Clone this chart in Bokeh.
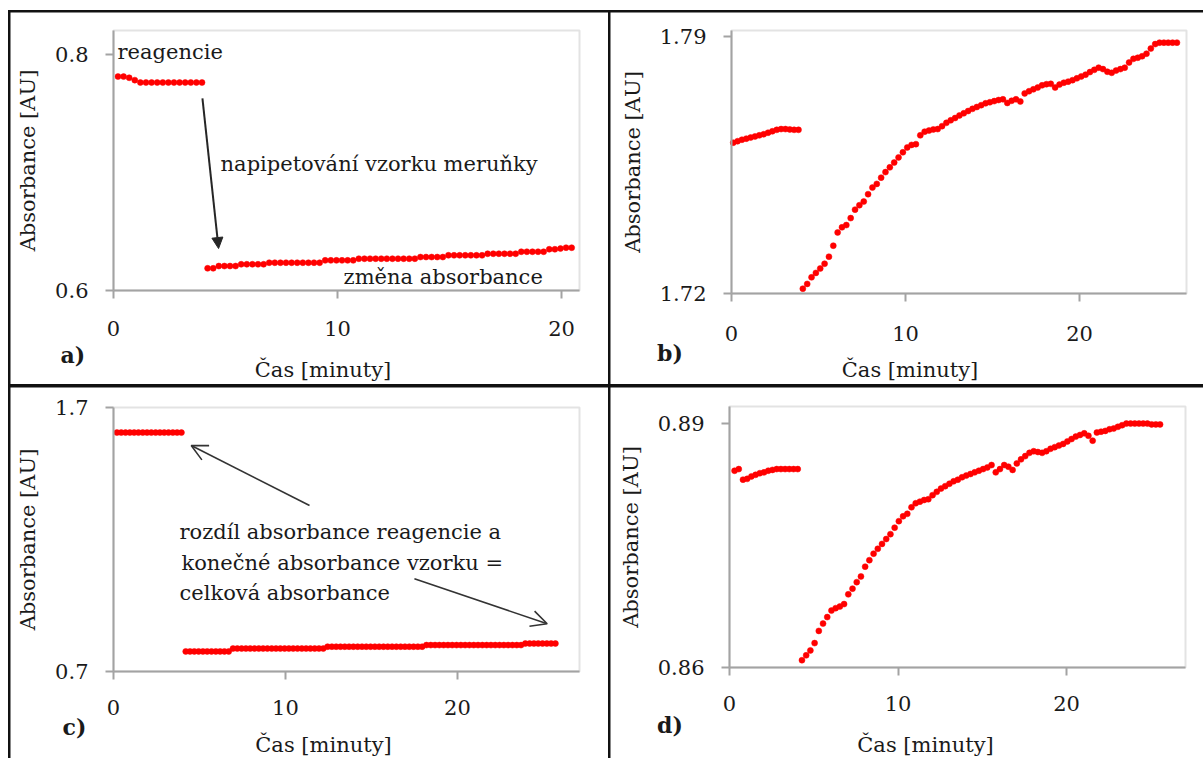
from bokeh.plotting import figure
from bokeh.models import (FixedTicker, Label, Arrow, NormalHead, OpenHead,
                          GridBox, Range1d, BoxAnnotation)
from bokeh.embed import file_html
from bokeh.resources import INLINE

# Sampling interval of the spectrophotometer record [min] (15 s)
STEP = 0.25

# a) reagent alone, then after pipetting the apricot sample
a_reagent_t0 = 0.2
a_reagent = [0.781, 0.781, 0.780, 0.778, 0.776, 0.776, 0.776, 0.776,
             0.776, 0.776, 0.776, 0.776, 0.776, 0.776, 0.776, 0.776]
a_sample_t0 = 4.2
a_sample = [0.6188, 0.6188,
            0.6207, 0.6207, 0.6207, 0.6207,
            0.6222, 0.6222, 0.6222, 0.6222, 0.6222,
            0.6235, 0.6235, 0.6235, 0.6235, 0.6235, 0.6235, 0.6235, 0.6235, 0.6235, 0.6235,
            0.6255, 0.6255, 0.6255, 0.6255, 0.6255, 0.6255,
            0.6269, 0.6269, 0.6269, 0.6269, 0.6269, 0.6269, 0.6269, 0.6269, 0.6269, 0.6269, 0.6269,
            0.6283, 0.6283, 0.6283, 0.6283, 0.6283,
            0.6298, 0.6298, 0.6298, 0.6298, 0.6298, 0.6298, 0.6298,
            0.6311, 0.6311, 0.6311, 0.6311, 0.6311, 0.6311,
            0.6328, 0.6328, 0.6328, 0.6328, 0.6328,
            0.6349, 0.6349, 0.6355, 0.6362, 0.6362]

# b) second record
b_reagent_t0 = 0.1
b_reagent = [1.7610, 1.7614, 1.7618, 1.7621, 1.7624, 1.7627, 1.7630, 1.7633,
             1.7637, 1.7641, 1.7645, 1.7647, 1.7647, 1.7646, 1.7645, 1.7645]
b_sample_t0 = 4.1
b_sample = [1.7213, 1.7226, 1.7244, 1.7256,
            1.7268, 1.7281, 1.7300, 1.7330,
            1.7366, 1.7380, 1.7386, 1.7405,
            1.7428, 1.7440, 1.7450, 1.7470,
            1.7488, 1.7498, 1.7515, 1.7530,
            1.7543, 1.7556, 1.7570, 1.7584,
            1.7597, 1.7604, 1.7606, 1.7630,
            1.7640, 1.7643, 1.7646, 1.7647,
            1.7655, 1.7664, 1.7671, 1.7677,
            1.7684, 1.7690, 1.7696, 1.7702,
            1.7707, 1.7712, 1.7717, 1.7720,
            1.7723, 1.7726, 1.7728, 1.7718,
            1.7724, 1.7728, 1.7722, 1.7744,
            1.7750, 1.7755, 1.7760, 1.7766,
            1.7769, 1.7770, 1.7760, 1.7768,
            1.7773, 1.7776, 1.7780, 1.7785,
            1.7790, 1.7795, 1.7802, 1.7808,
            1.7814, 1.7810, 1.7803, 1.7800,
            1.7806, 1.7810, 1.7814, 1.7828,
            1.7838, 1.7841, 1.7845, 1.7852,
            1.7866, 1.7878, 1.7882, 1.7882,
            1.7882, 1.7882, 1.7882]

# c) reagent vs. final sample absorbance
c_reagent_t0 = 0.2
c_reagent = [1.605, 1.605, 1.605, 1.605, 1.605, 1.605, 1.605, 1.605,
             1.605, 1.605, 1.605, 1.605, 1.605, 1.605, 1.605, 1.605]
c_sample_t0 = 4.2
c_sample = [0.776, 0.776, 0.776, 0.776, 0.776, 0.776, 0.776, 0.776, 0.776, 0.776, 0.776,
            0.787, 0.787, 0.787, 0.787, 0.787, 0.787, 0.787, 0.787, 0.787, 0.787, 0.787,
            0.787, 0.787, 0.787, 0.787, 0.787, 0.787, 0.787, 0.787, 0.787, 0.787, 0.787,
            0.794, 0.794, 0.794, 0.794, 0.794, 0.794, 0.794, 0.794, 0.794, 0.794, 0.794, 0.794,
            0.794, 0.794, 0.794, 0.794, 0.794, 0.794, 0.794, 0.794, 0.794, 0.794, 0.794,
            0.800, 0.800, 0.800, 0.800, 0.800, 0.800, 0.800, 0.800, 0.800, 0.800, 0.800, 0.800,
            0.800, 0.800, 0.800, 0.800, 0.800, 0.800, 0.800, 0.800, 0.800, 0.800, 0.800,
            0.806, 0.806, 0.806, 0.806, 0.806, 0.806, 0.806, 0.806]

# d) fourth record
d_reagent_t0 = 0.3
d_reagent = [0.8842, 0.8844, 0.8831, 0.8832, 0.8835, 0.8837, 0.8839, 0.8840,
             0.8842, 0.8843, 0.8844, 0.8844, 0.8844, 0.8844, 0.8844, 0.8844]
d_sample_t0 = 4.3
d_sample = [0.8609, 0.8615, 0.8621,
            0.8630, 0.8645, 0.8654, 0.8662,
            0.8670, 0.8673, 0.8675, 0.8678,
            0.8690, 0.8697, 0.8705, 0.8712,
            0.8724, 0.8732, 0.8740, 0.8746,
            0.8752, 0.8758, 0.8764, 0.8772,
            0.8780, 0.8786, 0.8789, 0.8797,
            0.8802, 0.8804, 0.8806, 0.8807,
            0.8812, 0.8816, 0.8820, 0.8823,
            0.8826, 0.8829, 0.8831, 0.8834,
            0.8836, 0.8838, 0.8840, 0.8842,
            0.8844, 0.8846, 0.8849, 0.8840,
            0.8844, 0.8849, 0.8847, 0.8843,
            0.8851, 0.8856, 0.8860, 0.8864,
            0.8866, 0.8865, 0.8864, 0.8866,
            0.8869, 0.8871, 0.8873, 0.8875,
            0.8878, 0.8881, 0.8884, 0.8886,
            0.8888, 0.8885, 0.8879, 0.8889,
            0.8890, 0.8891, 0.8893, 0.8894,
            0.8896, 0.8898, 0.8900, 0.8900,
            0.8900, 0.8900, 0.8900, 0.8900,
            0.8899, 0.8899, 0.8899]

x_ticks = [0, 10, 20]
a_yticks = [0.6, 0.8]
b_yticks = [1.72, 1.79]
c_yticks = [0.7, 1.7]
d_yticks = [0.86, 0.89]

X_TITLE = "Čas [minuty]"
Y_TITLE = "Absorbance [AU]"

FONT = "DejaVu Serif"
INK = "#1a1a1a"
FRAME = "#a3a3a3"
DOT = "#ff0000"


def times(t0, n):
    return [round(t0 + STEP * i, 3) for i in range(n)]


class Panel:
    """One chart cell. The Bokeh frame fills the whole cell, the grey plot
    area (pixel box `area` = left, top, right, bottom) is drawn inside it with
    the axes pinned to its lower and left edges."""

    def __init__(self, width, height, area, x_extent, y_extent, yticks,
                 x_standoff):
        left, top, right, bottom = area
        x0, x1 = x_extent
        y0, y1 = y_extent
        self.sx = (right - left) / (x1 - x0)
        self.sy = (bottom - top) / (y1 - y0)
        self.xs = x0 - left / self.sx
        self.ye = y1 + top / self.sy
        p = figure(width=width, height=height, output_backend="svg",
                   toolbar_location=None, min_border=0,
                   x_range=Range1d(self.xs, x1 + (width - right) / self.sx),
                   y_range=Range1d(y0 - (height - bottom) / self.sy, self.ye))
        p.grid.visible = False
        p.outline_line_color = None
        p.background_fill_color = "white"
        p.border_fill_color = "white"
        p.add_layout(BoxAnnotation(left=x0, right=x1, bottom=y0, top=y1,
                                   fill_color=None, line_color=FRAME,
                                   line_width=2, level="underlay"))
        xa, ya = p.xaxis[0], p.yaxis[0]
        for ax in (xa, ya):
            ax.axis_line_color = FRAME
            ax.axis_line_width = 2
            ax.major_tick_line_color = FRAME
            ax.major_tick_line_width = 2
            ax.major_tick_in = 0
            ax.major_tick_out = 8
            ax.minor_tick_line_color = None
            ax.major_label_text_font = FONT
            ax.major_label_text_font_size = "21px"
            ax.major_label_text_color = INK
        xa.fixed_location = y0
        xa.bounds = (x0, x1)
        xa.ticker = FixedTicker(ticks=x_ticks)
        xa.major_label_standoff = x_standoff
        ya.fixed_location = x0
        ya.bounds = (y0, y1)
        ya.ticker = FixedTicker(ticks=yticks)
        ya.major_label_standoff = 17
        ya.axis_label = Y_TITLE
        ya.axis_label_text_font = FONT
        ya.axis_label_text_font_size = "21px"
        ya.axis_label_text_font_style = "normal"
        ya.axis_label_text_color = INK
        ya.axis_label_standoff = 12
        self.p = p

    def series(self, t0, values):
        self.p.scatter(times(t0, len(values)), values, marker="circle",
                       size=6, fill_color=DOT, line_color=DOT,
                       line_width=0.5)

    def text(self, x, y, s, size="21px", bold=False, align="left",
             baseline="alphabetic"):
        self.p.add_layout(Label(x=x, y=y, text=s, text_font=FONT,
                                text_font_size=size,
                                text_font_style="bold" if bold else "normal",
                                text_color=INK, text_align=align,
                                text_baseline=baseline))

    def caption(self, letter, letter_px, title_px):
        """Panel letter and time-axis title, placed in cell pixels."""
        lx, ly = letter_px
        tx, ty = title_px
        self.text(self.xs + lx / self.sx, self.ye - ly / self.sy, letter,
                  size="22px", bold=True, baseline="middle")
        self.text(self.xs + tx / self.sx, self.ye - ty / self.sy, X_TITLE,
                  align="center", baseline="middle")


# --- a) -----------------------------------------------------------------
a = Panel(598, 372, (103, 18, 569, 278), (0, 20.8), (0.6, 0.82), a_yticks, 22)
a.series(a_reagent_t0, a_reagent)
a.series(a_sample_t0, a_sample)
a.text(0.18, 0.8014, "reagencie")
a.text(4.78, 0.7074, "napipetování vzorku meruňky")
a.text(10.27, 0.6118, "změna absorbance")
a.p.add_layout(Arrow(x_start=3.97, y_start=0.7625, x_end=4.69, y_end=0.6355,
                     line_color="#262626", line_width=2,
                     end=NormalHead(size=11, fill_color="#262626",
                                    line_color="#262626", line_width=1)))
a.caption("a)", (50, 342.5), (312.5, 357))

# --- b) -----------------------------------------------------------------
b = Panel(593, 372, (121, 18, 576, 281), (0, 26.15), (1.72, 1.7915), b_yticks, 24)
b.series(b_reagent_t0, b_reagent)
b.series(b_sample_t0, b_sample)
b.caption("b)", (46.5, 340.5), (299.5, 357))

# --- c) -----------------------------------------------------------------
c = Panel(598, 371, (103, 20, 569, 284), (0, 27.1), (0.7, 1.7), c_yticks, 20)
c.series(c_reagent_t0, c_reagent)
c.series(c_sample_t0, c_sample)
c.text(3.84, 1.2302, "rozdíl absorbance reagencie a")
c.text(3.95, 1.1101, "konečné absorbance vzorku =")
c.text(3.84, 0.9964, "celková absorbance")
c.p.add_layout(Arrow(x_start=11.40, y_start=1.3288, x_end=4.52, y_end=1.5561,
                     line_color="#333333", line_width=1.6,
                     end=OpenHead(size=16, line_color="#333333", line_width=1.6)))
c.p.add_layout(Arrow(x_start=17.50, y_start=1.0511, x_end=25.22, y_end=0.8807,
                     line_color="#333333", line_width=1.6,
                     end=OpenHead(size=16, line_color="#333333", line_width=1.6)))
c.caption("c)", (52, 339), (313, 357))

# --- d) -----------------------------------------------------------------
d = Panel(593, 371, (119, 19, 575, 280), (0, 27.06), (0.86, 0.8921), d_yticks, 20)
d.series(d_reagent_t0, d_reagent)
d.series(d_sample_t0, d_sample)
d.caption("d)", (46.5, 337), (315, 357))

# 2x2 sheet with black rules between the panels
grid = GridBox(children=[(a.p, 0, 0), (b.p, 0, 1), (c.p, 1, 0), (d.p, 1, 1)],
               spacing=(3, 2), margin=(10, 0, 0, 8),
               styles={"background-color": "#111111",
                       "padding-left": "2px", "padding-top": "2px"})

open("out.html", "w").write(file_html(grid, INLINE, title="Absorbance"))
